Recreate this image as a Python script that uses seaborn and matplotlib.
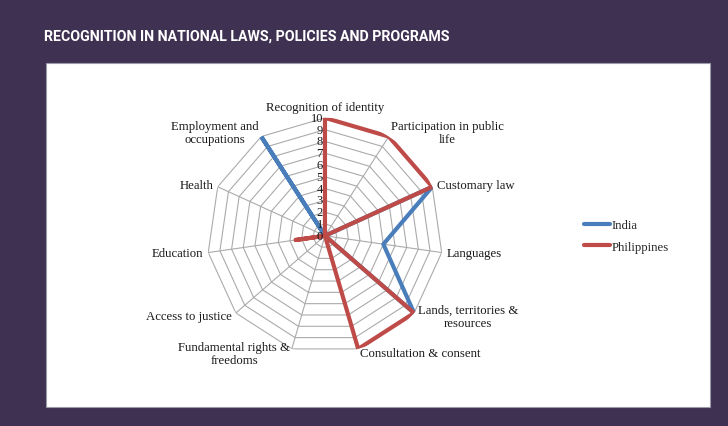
import numpy as np
import pandas as pd
import matplotlib
matplotlib.use('Agg')
import matplotlib.pyplot as plt
import matplotlib.transforms as mtransforms
from matplotlib.patches import Rectangle
from matplotlib.lines import Line2D
import seaborn as sns

# Data
categories = ['Recognition of identity', 'Participation in public\nlife', 'Customary law',
              'Languages', 'Lands, territories &\nresources', 'Consultation & consent',
              'Fundamental rights &\nfreedoms', 'Access to justice', 'Education', 'Health',
              'Employment and\noccupations']
india = [0, 0, 10, 5, 10, 0, 0, 0, 0, 0, 10]
philippines = [10, 10, 10, 0, 10, 10, 0, 0, 2.5, 0, 0]
series_names = ['India', 'Philippines']
r_ticks = list(range(0, 11))

colors = {'India': '#4a7ebb', 'Philippines': '#be4b48'}

sns.set_style('white')
plt.rcParams['font.family'] = ['Liberation Serif', 'DejaVu Serif']

n = len(categories)
angles = np.linspace(0, 2 * np.pi, n, endpoint=False)

rows = []
for name, vals in zip(series_names, [india, philippines]):
    for a, v in zip(list(angles) + [2 * np.pi], vals + vals[:1]):
        rows.append({'theta': a, 'value': v, 'country': name})
df = pd.DataFrame(rows)

fig = plt.figure(figsize=(7.28, 4.27), dpi=100)
fig.patch.set_facecolor('#3f3152')
fig.patches.append(Rectangle((0.0632, 0.0445), 0.912, 0.806, transform=fig.transFigure,
                             facecolor='white', edgecolor='#9a9aa8', linewidth=0.8, zorder=-5))
fig.text(0.061, 0.905, 'RECOGNITION IN NATIONAL LAWS, POLICIES AND PROGRAMS',
         color='white', fontsize=10.2, fontweight='bold', fontstretch='condensed',
         family=['Roboto', 'DejaVu Sans'], va='baseline')

ax = fig.add_axes([0.2844, 0.169, 0.324, 0.553], projection='polar')
ax.set_zorder(2)
ax.set_facecolor('none')
ax.set_theta_zero_location('N')
ax.set_theta_direction(-1)
ax.grid(False)
ax.spines['polar'].set_visible(False)

# polygon grid
closed = list(angles) + [angles[0]]
for r in r_ticks[1:]:
    ax.plot(closed, [r] * len(closed), color='#ababab', lw=0.8, zorder=1)
for a in angles:
    ax.plot([a, a], [0, 10], color='#ababab', lw=0.8, zorder=1)

sns.lineplot(data=df, x='theta', y='value', hue='country', palette=colors,
             sort=False, estimator=None, lw=3.0, ax=ax, legend=False, zorder=3)
ax.set_xlabel('')
ax.set_ylabel('')
ax.set_xticks([])
ax.set_yticks([])
ax.set_ylim(0, 10)

# radial tick labels
off = mtransforms.offset_copy(ax.transData, fig=fig, x=-2, y=0, units='dots')
for r in r_ticks:
    ax.text(0, r, str(r), transform=off, ha='right', va='center', fontsize=9,
            color='#1a1a1a')

# category labels
for a, lab in zip(angles, categories):
    s, c = np.sin(a), np.cos(a)
    if abs(s) < 0.1:
        ha = 'center'
    elif s > 0:
        ha = 'left'
    else:
        ha = 'right'
    va = 'bottom' if c > 0.95 else 'center'
    ax.text(a, 10.4, lab, ha=ha, va=va, fontsize=9.2, multialignment='center',
            color='#1a1a1a', linespacing=1.1)

handles = [Line2D([], [], color=colors[nm], lw=3.0, solid_capstyle='round') for nm in series_names]
fig.legend(handles, series_names, loc='center left', bbox_to_anchor=(0.787, 0.445),
           frameon=False, fontsize=9.2, handlelength=2.0, handletextpad=0.1,
           labelspacing=0.75)

fig.savefig('out.png', dpi=100, facecolor=fig.get_facecolor())
